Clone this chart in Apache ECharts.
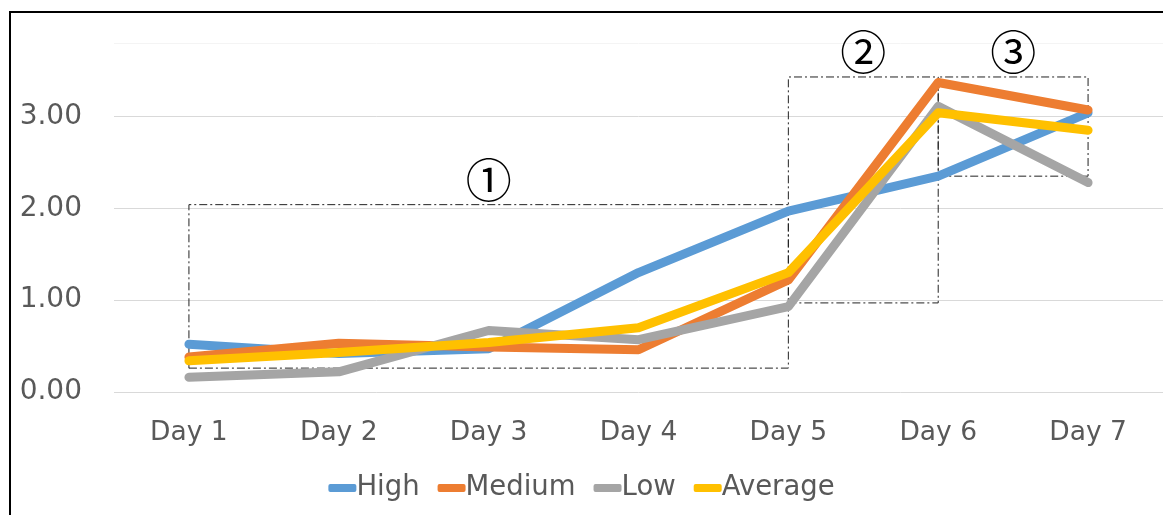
<!DOCTYPE html>
<html>
<head>
<meta charset="utf-8">
<script src="https://cdn.jsdelivr.net/npm/echarts@6/dist/echarts.min.js"></script>
<style>
  html, body { margin: 0; padding: 0; background: #fff; }
  #wrap { position: relative; width: 1163px; height: 515px; overflow: hidden; }
  #chart { position: absolute; left: 0; top: 0; width: 1163px; height: 515px; }
  #frame { position: absolute; left: 9px; top: 11px; width: 1200px; height: 600px;
           border-left: 2px solid #000; border-top: 2px solid #000; pointer-events: none; }
</style>
</head>
<body>
<div id="wrap">
  <div id="chart"></div>
  <div id="frame"></div>
</div>
<script>
const days = ['Day 1', 'Day 2', 'Day 3', 'Day 4', 'Day 5', 'Day 6', 'Day 7']
const high = [0.52, 0.42, 0.47, 1.30, 1.97, 2.35, 3.04]
const medium = [0.38, 0.53, 0.49, 0.46, 1.22, 3.37, 3.07]
const low = [0.16, 0.22, 0.67, 0.57, 0.93, 3.11, 2.28]
const average = [0.34, 0.43, 0.54, 0.70, 1.30, 3.04, 2.85]

// highlighted regions: [label, fromDay, toDay, fromValue, toValue]
const boxes = [
  ['①', 'Day 1', 'Day 5', 0.26, 2.04],
  ['②', 'Day 5', 'Day 6', 0.97, 3.43],
  ['③', 'Day 6', 'Day 7', 2.35, 3.43]
]

const colors = ['#5b9bd5', '#ed7d31', '#a5a5a5', '#ffc000']
const textColor = '#595959'
const font = 'DejaVu Sans'

function line(name, data, color) {
  return {
    name: name,
    type: 'line',
    data: data,
    symbol: 'none',
    color: color,
    lineStyle: { width: 9, color: color, cap: 'round', join: 'round' },
    z: 2
  }
}

const chart = echarts.init(document.getElementById('chart'))
chart.setOption({
  animation: false,
  grid: { left: 114, top: 43, bottom: 123, width: 1050 },
  legend: {
    data: ['High', 'Medium', 'Low', 'Average'],
    top: 469,
    left: 'center',
    icon: 'roundRect',
    itemWidth: 28,
    itemHeight: 8,
    itemGap: 18,
    textStyle: { color: textColor, fontSize: 27.5, fontFamily: font, padding: [0, 0, 0, -5] }
  },
  xAxis: {
    type: 'category',
    data: days,
    axisLine: { show: false },
    axisTick: { show: false },
    axisLabel: { color: textColor, fontSize: 26.5, fontFamily: font, margin: 28 }
  },
  yAxis: {
    type: 'value',
    min: 0,
    max: 3.8,
    interval: 1,
    axisLabel: {
      color: textColor, fontSize: 28, fontFamily: font, margin: 32,
      formatter: v => (v % 1 === 0 ? v.toFixed(2) : '')
    },
    splitLine: { lineStyle: { color: ['#d9d9d9', '#d9d9d9', '#d9d9d9', '#d9d9d9', '#f4f4f4'], width: 1 } }
  },
  series: [
    line('High', high, colors[0]),
    line('Medium', medium, colors[1]),
    line('Low', low, colors[2]),
    line('Average', average, colors[3]),
    {
      name: 'regions',
      type: 'line',
      data: [],
      z: 5,
      markArea: {
        silent: true,
        itemStyle: { color: 'rgba(0,0,0,0)', borderColor: '#222', borderWidth: 1, borderType: [8, 3, 2, 3] },
        label: {
          show: true, position: 'top', distance: 2, color: '#000',
          fontSize: 46, fontFamily: 'Noto Sans CJK JP'
        },
        data: boxes.map(b => [
          { name: b[0], xAxis: b[1], yAxis: b[3] },
          { xAxis: b[2], yAxis: b[4] }
        ])
      }
    }
  ]
})
</script>
</body>
</html>
